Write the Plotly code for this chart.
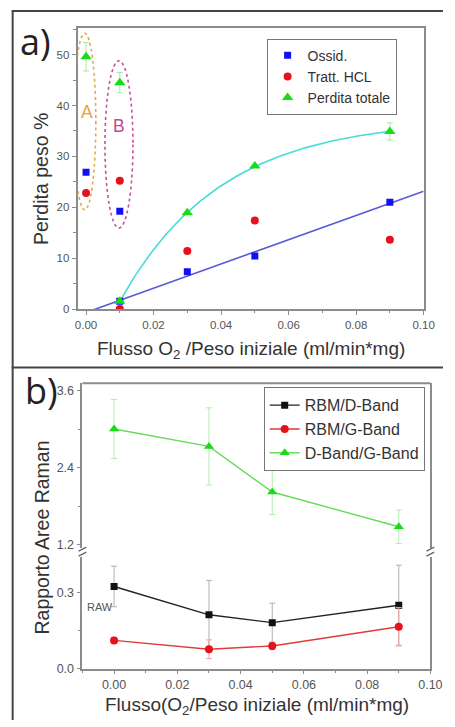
import numpy as np
import plotly.graph_objects as go

W, H = 455, 727

# ---- panel a: weight loss vs O2 flow / initial weight ----
flow_a = [0.0, 0.01, 0.01, 0.03, 0.05, 0.09]
ossid = [26.9, 19.2, 1.5, 7.3, 10.4, 21.0]
tratt_hcl = [22.8, 25.2, 0.0, 11.4, 17.4, 13.6]
perdita_tot = [49.6, 44.5, 1.5, 18.9, 28.1, 34.9]
perdita_err = [2.8, 2.0, 0.0, 0.0, 0.0, 1.7]
fit_from = 2  # points A (x=0) and B (first x=0.01) are left out of the fits

# ---- panel b: Raman area ratios ----
flow_b = [0.0, 0.03, 0.05, 0.09]
rbm_d = [0.324, 0.212, 0.181, 0.250]
rbm_d_err = [0.080, 0.136, 0.077, 0.158]
rbm_g = [0.111, 0.076, 0.089, 0.165]
rbm_g_err = [0.012, 0.037, 0.015, 0.076]
d_g = [3.00, 2.73, 2.02, 1.48]
d_g_err = [0.46, 0.60, 0.35, 0.26]

BLUE, RED, GREEN = "#1010f0", "#e8101a", "#18dc18"
AX = "#8c8c8c"
TICKFONT_A = dict(family="Liberation Sans, Arial", size=11.5, color="#555555")
TICKFONT_B = dict(family="Liberation Sans, Arial", size=12.5, color="#555555")
TITLEFONT = dict(family="Liberation Sans, Arial", size=19, color="#333333")


def px_x(p):
    return p / W


def px_y(p):
    return 1 - p / H


fig = go.Figure()

# linear fit of the oxidation loss
fx = np.array(flow_a[fit_from:])
slope, icpt = np.polyfit(fx, np.array(ossid[fit_from:]), 1)
lx = np.array([-0.0025, 0.10])
fig.add_trace(go.Scatter(x=lx, y=slope * lx + icpt, mode="lines",
                         line=dict(color="#5a5ad8", width=1.6),
                         showlegend=False, hoverinfo="skip", xaxis="x", yaxis="y"))

# saturating exponential fit of the total loss (A - B*exp(-k x))
ty = np.array(perdita_tot[fit_from:])
best = None
for k in np.linspace(5, 120, 1151):
    M = np.column_stack([np.ones_like(fx), -np.exp(-k * fx)])
    coef, *_ = np.linalg.lstsq(M, ty, rcond=None)
    r = np.sum((M @ coef - ty) ** 2)
    if best is None or r < best[0]:
        best = (r, k, coef)
_, kk, (cA, cB) = best
cx = np.linspace(fx.min(), fx.max(), 120)
fig.add_trace(go.Scatter(x=cx, y=cA - cB * np.exp(-kk * cx), mode="lines",
                         line=dict(color="#48dcd8", width=1.6),
                         showlegend=False, hoverinfo="skip", xaxis="x", yaxis="y"))

fig.add_trace(go.Scatter(x=flow_a, y=ossid, mode="markers", name="Ossid.",
                         marker=dict(symbol="square", size=7, color=BLUE),
                         xaxis="x", yaxis="y", legend="legend"))
fig.add_trace(go.Scatter(x=flow_a, y=tratt_hcl, mode="markers", name="Tratt. HCL",
                         marker=dict(symbol="circle", size=8, color=RED),
                         xaxis="x", yaxis="y", legend="legend"))
fig.add_trace(go.Scatter(x=flow_a, y=perdita_tot, mode="markers", name="Perdita totale",
                         marker=dict(symbol="triangle-up", size=10, color=GREEN),
                         error_y=dict(type="data", array=perdita_err, color="#a8e8a8",
                                      thickness=1, width=3),
                         xaxis="x", yaxis="y", legend="legend"))

# panel b traces
fig.add_trace(go.Scatter(x=flow_b, y=rbm_d, mode="lines+markers", name="RBM/D-Band",
                         line=dict(color="#222222", width=1.4),
                         marker=dict(symbol="square", size=7, color="#111111"),
                         error_y=dict(type="data", array=rbm_d_err, color="#b0b0b0",
                                      thickness=1, width=3),
                         xaxis="x2", yaxis="y3", legend="legend2"))
fig.add_trace(go.Scatter(x=flow_b, y=rbm_g, mode="lines+markers", name="RBM/G-Band",
                         line=dict(color="#e03a3a", width=1.4),
                         marker=dict(symbol="circle", size=8, color=RED),
                         error_y=dict(type="data", array=rbm_g_err, color="#f0a0a0",
                                      thickness=1, width=3),
                         xaxis="x2", yaxis="y3", legend="legend2"))
fig.add_trace(go.Scatter(x=flow_b, y=d_g, mode="lines+markers", name="D-Band/G-Band",
                         line=dict(color="#66dc5a", width=1.4),
                         marker=dict(symbol="triangle-up", size=9, color=GREEN),
                         error_y=dict(type="data", array=d_g_err, color="#b4ecb0",
                                      thickness=1, width=3),
                         xaxis="x2", yaxis="y2", legend="legend2"))

common = dict(showgrid=False, zeroline=False, showline=True, linecolor=AX, linewidth=1.8,
              ticks="outside", ticklen=4, tickwidth=1.2, tickcolor=AX)

fig.update_layout(
    width=W, height=H, margin=dict(l=0, r=0, t=0, b=0),
    paper_bgcolor="white", plot_bgcolor="white",
    font=dict(family="Liberation Sans, Arial", color="#333333"),
    xaxis=dict(domain=[px_x(78), px_x(435)], range=[-0.0025, 0.10], anchor="y",
               tick0=0, dtick=0.02, tickformat=".2f", tickfont=TICKFONT_A, mirror=True,
               minor=dict(dtick=0.01, ticks="outside", ticklen=2.5, tickcolor=AX), **common),
    yaxis=dict(domain=[px_y(312), px_y(28)], range=[0, 55.3], anchor="x",
               tick0=0, dtick=10, tickfont=TICKFONT_A, mirror=True,
               minor=dict(dtick=5, ticks="outside", ticklen=2.5, tickcolor=AX), **common),
    xaxis2=dict(domain=[px_x(83), px_x(442)], range=[-0.01, 0.10], anchor="y3",
                tick0=0, dtick=0.02, tickformat=".2f", tickfont=TICKFONT_B, mirror=False,
                minor=dict(dtick=0.01, ticks="outside", ticklen=2.5, tickcolor=AX), **common),
    yaxis2=dict(domain=[px_y(553), px_y(387)], range=[1.154, 3.712], anchor="x2",
                tick0=0, dtick=1.2, tickformat=".1f", tickfont=TICKFONT_B, mirror=True,
                minor=dict(dtick=0.6, ticks="outside", ticklen=2.5, tickcolor=AX), **common),
    yaxis3=dict(domain=[px_y(675), px_y(562)], range=[0, 0.442], anchor="x2",
                tick0=0, dtick=0.3, tickformat=".1f", tickfont=TICKFONT_B, mirror=True,
                minor=dict(dtick=0.15, ticks="outside", ticklen=2.5, tickcolor=AX), **common),
    legend=dict(x=px_x(273), y=px_y(39), xanchor="left", yanchor="top",
                bgcolor="white", bordercolor="#777777", borderwidth=1,
                font=dict(family="Liberation Sans, Arial", size=14, color="#333333"),
                tracegroupgap=0, itemwidth=30),
    legend2=dict(x=px_x(270), y=px_y(391), xanchor="left", yanchor="top",
                 bgcolor="white", bordercolor="#777777", borderwidth=1,
                 font=dict(family="Liberation Sans, Arial", size=16, color="#333333"),
                 tracegroupgap=0, itemwidth=30),
)

shapes = []
# outer panel frames
frame = dict(type="line", xref="paper", yref="paper", line=dict(color="#444444", width=2))
shapes.append(dict(frame, x0=px_x(11), x1=px_x(11), y0=px_y(11), y1=0))
shapes.append(dict(frame, x0=px_x(10), x1=1, y0=px_y(11), y1=px_y(11)))
shapes.append(dict(frame, x0=px_x(10), x1=1, y0=px_y(371), y1=px_y(371)))
# top border of the upper Raman segment
shapes.append(dict(type="line", xref="paper", yref="paper", x0=px_x(83), x1=px_x(442),
                   y0=px_y(387), y1=px_y(387), line=dict(color=AX, width=1.8)))
# axis-break marks on both sides
for xb in (83, 442):
    for yb in (554.5, 559.5):
        shapes.append(dict(type="line", xref="paper", yref="paper",
                           x0=px_x(xb - 4), x1=px_x(xb + 4), y0=px_y(yb + 2), y1=px_y(yb - 2),
                           line=dict(color="#666666", width=1.3)))
# groups A and B
shapes.append(dict(type="circle", xref="x", yref="y", x0=-0.00365, x1=0.0029, y0=19.5, y1=54.2,
                   line=dict(color="#e8a848", width=1.6, dash="dot")))
shapes.append(dict(type="circle", xref="x", yref="y", x0=0.0056, x1=0.0139, y0=15.9, y1=48.8,
                   line=dict(color="#c8509a", width=1.6, dash="dot")))
fig.update_layout(shapes=shapes)

C = dict(xanchor="center", yanchor="middle", showarrow=False)
ann = [
    dict(C, text="A", x=0.0004, y=38.7, xref="x", yref="y",
         font=dict(size=17.5, color="#e8a040")),
    dict(C, text="B", x=0.0098, y=36.0, xref="x", yref="y",
         font=dict(size=17.5, color="#c04a90")),
    dict(C, text="RAW", x=-0.0043, y=0.244, xref="x2", yref="y3",
         font=dict(size=11, color="#555555")),
    dict(C, text="a)", x=px_x(35), y=px_y(42), xref="paper", yref="paper",
         font=dict(family="Open Sans", size=36, color="#222222")),
    dict(C, text="b)", x=px_x(41), y=px_y(394), xref="paper", yref="paper",
         font=dict(family="Open Sans", size=36, color="#222222")),
    dict(C, text="Perdita peso %", textangle=-90, x=px_x(41), y=px_y(181), xref="paper",
         yref="paper", font=dict(TITLEFONT, size=19.5)),
    dict(C, text="Rapporto Aree Raman", textangle=-90, x=px_x(41), y=px_y(543), xref="paper",
         yref="paper", font=dict(TITLEFONT, size=19.5)),
    dict(C, text="Flusso O<sub>2</sub> /Peso iniziale (ml/min*mg)", x=px_x(257), y=px_y(353),
         xref="paper", yref="paper", font=TITLEFONT),
    dict(C, text="Flusso(O<sub>2</sub>/Peso iniziale (ml/min*mg)", x=px_x(263), y=px_y(713),
         xref="paper", yref="paper", font=TITLEFONT),
]
fig.update_layout(annotations=ann)

fig.write_html("out.html")
